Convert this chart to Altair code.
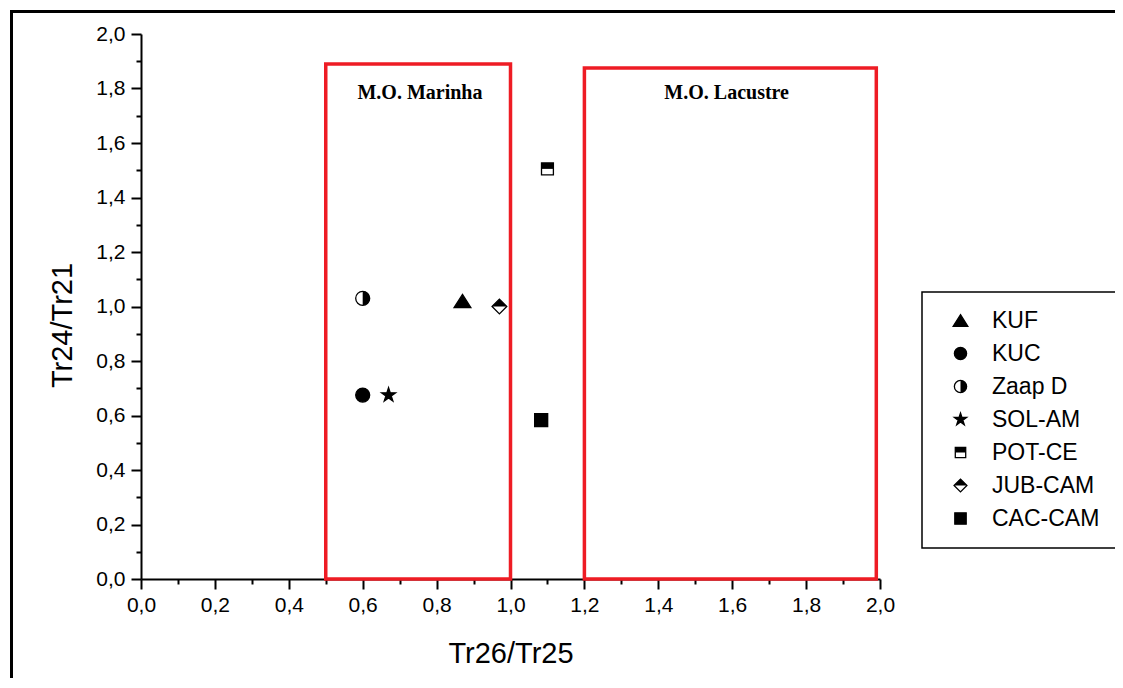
import altair as alt
import pandas as pd

# ---------------- data ----------------
series = ["KUF", "KUC", "Zaap D", "SOL-AM", "POT-CE", "JUB-CAM", "CAC-CAM"]
tr26_tr25 = [0.87, 0.60, 0.60, 0.67, 1.10, 0.97, 1.083]
tr24_tr21 = [1.02, 0.675, 1.03, 0.675, 1.505, 1.00, 0.583]

box_names = ["M.O. Marinha", "M.O. Lacustre"]
box_x_start = [0.5, 1.2]
box_x_end = [1.0, 1.99]
box_y_start = [0.0, 0.0]
box_y_end = [1.89, 1.875]
box_label_x = [0.755, 1.585]
box_label_y = [1.785, 1.785]

axis_values = [round(i * 0.1, 1) for i in range(21)]

# ---------------- marker shapes ----------------
TRI = "M0,-0.95 L1.2,0.95 L-1.2,0.95 Z"
CIRC = "circle"
HALF_CIRC = "M0,-1 A1,1 0 0,1 0,1 Z"
STAR = ("M0,-1.05 L0.236,-0.324 L0.999,-0.324 L0.381,0.124 L0.617,0.85 "
        "L0,0.401 L-0.617,0.85 L-0.381,0.124 L-0.999,-0.324 L-0.236,-0.324 Z")
SQ_POT = "M-0.85,-0.85 L0.85,-0.85 L0.85,0.85 L-0.85,0.85 Z"
HALF_SQ_POT = "M-0.85,-0.85 L0.85,-0.85 L0.85,0 L-0.85,0 Z"
DIA = "M-1.05,0 L0,-1.05 L1.05,0 L0,1.05 Z"
HALF_DIA = "M-1.05,0 L0,-1.05 L1.05,0 Z"
SQ_CAC = "M-0.93,-0.93 L0.93,-0.93 L0.93,0.93 L-0.93,0.93 Z"

outline_shapes = [TRI, CIRC, CIRC, STAR, SQ_POT, DIA, SQ_CAC]
fill_shapes = [TRI, CIRC, HALF_CIRC, STAR, HALF_SQ_POT, HALF_DIA, SQ_CAC]

pts = pd.DataFrame({"serie": series, "x": tr26_tr25, "y": tr24_tr21})
boxes = pd.DataFrame({
    "name": box_names, "x1": box_x_start, "x2": box_x_end,
    "y1": box_y_start, "y2": box_y_end,
    "lx": box_label_x, "ly": box_label_y,
})

label_expr = ("(round(datum.value*10) % 2 == 0) ? "
              "replace(format(datum.value, '.1f'), '.', ',') : ''")
tick_size = {"condition": {"test": "round(datum.value*10) % 2 == 0", "value": 10},
             "value": 5}

x_scale = alt.Scale(domain=[0, 2], nice=False, zero=False)
y_scale = alt.Scale(domain=[0, 2], nice=False, zero=False)

x_axis = alt.Axis(values=axis_values, labelExpr=label_expr, tickSize=tick_size,
                  title="Tr26/Tr25", titlePadding=24, labelPadding=5)
y_axis = alt.Axis(values=axis_values, labelExpr=label_expr, tickSize=tick_size,
                  title="Tr24/Tr21", titlePadding=18, labelPadding=6, titleY=291)

X = alt.X("x:Q", scale=x_scale, axis=x_axis)
Y = alt.Y("y:Q", scale=y_scale, axis=y_axis)

legend_common = dict(orient="none", legendX=781, legendY=258, title=None,
                     symbolSize=150, labelFont="Liberation Sans", labelFontSize=23,
                     labelColor="black", padding=17, rowPadding=9,
                     symbolOffset=10, labelOffset=20)

frame = alt.Chart(pd.DataFrame({"k": [0]})).mark_rect(
    fill="white", fillOpacity=0, stroke="black", strokeWidth=3
).encode(x=alt.value(-129.5), x2=alt.value(1000), y=alt.value(-22.5), y2=alt.value(700))

outline = alt.Chart(pts).mark_point(
    filled=False, color="black", strokeWidth=1.3, size=196, opacity=1
).encode(
    x=X, y=Y,
    shape=alt.Shape("serie:N", scale=alt.Scale(domain=series, range=outline_shapes),
                    legend=alt.Legend(strokeColor="black", symbolStrokeColor="black",
                                      symbolStrokeWidth=1.3, **legend_common)),
)

filled = alt.Chart(pts).mark_point(
    filled=True, color="black", size=196, opacity=1, strokeWidth=0
).encode(
    x=X, y=Y,
    shape=alt.Shape("serie:N", scale=alt.Scale(domain=series, range=fill_shapes),
                    legend=alt.Legend(labelOpacity=0, symbolFillColor="black",
                                      symbolStrokeWidth=0, **legend_common)),
)

rects = alt.Chart(boxes).mark_rect(
    fill="white", fillOpacity=0, stroke="#ee1c24", strokeWidth=3.5
).encode(
    x=alt.X("x1:Q", scale=x_scale, axis=x_axis), x2="x2:Q",
    y=alt.Y("y1:Q", scale=y_scale, axis=y_axis), y2="y2:Q",
)

labels = alt.Chart(boxes).mark_text(
    font="Liberation Serif", fontSize=20, fontWeight="bold", color="black"
).encode(
    x=alt.X("lx:Q", scale=x_scale, axis=x_axis),
    y=alt.Y("ly:Q", scale=y_scale, axis=y_axis),
    text="name:N",
)

chart = alt.layer(frame, outline, filled, rects, labels).resolve_scale(
    shape="independent"
).properties(
    width=739, height=545,
    autosize=alt.AutoSizeParams(type="none"),
    padding={"left": 133, "top": 26, "right": 235, "bottom": 99},
).configure_view(
    stroke="transparent"
).configure_axis(
    grid=False, domainColor="black", domainWidth=2, tickColor="black", tickWidth=2,
    labelFont="Liberation Sans", labelFontSize=21, labelColor="black",
    titleFont="Liberation Sans", titleFontSize=29, titleFontWeight="normal",
    titleColor="black", labelOverlap=False, labelFlush=False,
).configure_legend(
    strokeWidth=1.5
)

chart.save("out.html", embed_options={"renderer": "svg", "actions": False})
